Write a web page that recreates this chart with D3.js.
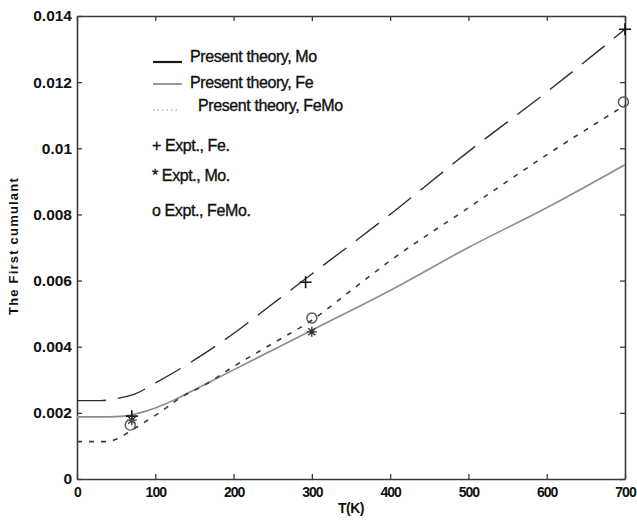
<!DOCTYPE html>
<html>
<head>
<meta charset="utf-8">
<script src="https://cdn.jsdelivr.net/npm/d3@7"></script>
<style>
  body { margin: 0; background: #fff; }
  svg { display: block; font-family: "Liberation Sans", Arial, sans-serif; }
</style>
</head>
<body>
<svg id="chart" width="637" height="526"></svg>
<script>
// temperatures (K) and first cumulant values
const moTheory = [[0,.00188],[40,.00188],[60,.0019],[80,.002],[100,.00215],[125,.0024],[150,.0027],[200,.0033],[250,.0039],[300,.0045],[400,.0057],[500,.0070],[600,.0082],[700,.0095]]
const feTheory = [[0,.00237],[30,.00237],[50,.00243],[75,.00258],[100,.0029],[150,.0036],[200,.0044],[250,.0053],[300,.0062],[400,.008],[500,.0099],[600,.0117],[700,.0136]]
const femoTheory = [[0,.00113],[35,.00113],[50,.0012],[65,.0014],[85,.0017],[105,.002],[135,.0025],[160,.0028],[200,.0034],[250,.0041],[300,.0048],[350,.0057],[400,.0066],[500,.0082],[600,.0098],[700,.0113]]

const feExpt = [[70,.0019],[292,.00595],[700,.0136]]
const moExpt = [[70,.00178],[300,.00445]]
const femoExpt = [[68,.00163],[300,.00487],[698,.0114]]

const xTicks = [0,100,200,300,400,500,600,700]
const yTicks = [0,.002,.004,.006,.008,.01,.012,.014]

const lineLabels = ['Present theory, Mo', 'Present theory, Fe', 'Present theory, FeMo']
const markLabels = ['+ Expt., Fe.', '* Expt., Mo.', 'o Expt., FeMo.']

const margin = {top: 16, right: 12, bottom: 47, left: 77}
const width = 637 - margin.left - margin.right
const height = 526 - margin.top - margin.bottom

const svg = d3.select('#chart').append('g')
  .attr('transform', `translate(${margin.left},${margin.top})`)

const x = d3.scaleLinear().domain([0, 700]).range([0, width])
const y = d3.scaleLinear().domain([0, 0.014]).range([height, 0])

const axisColor = '#3a3a3a'

// frame axes, matlab style ticks pointing inward
const bottom = svg.append('g')
  .attr('transform', `translate(0,${height})`)
  .call(d3.axisBottom(x).tickValues(xTicks).tickSizeInner(-5).tickSizeOuter(0).tickPadding(8))
bottom.selectAll('text')
  .attr('font-size', '14px').attr('font-weight', 'bold').attr('letter-spacing', '-1px').attr('fill', '#111')

const left = svg.append('g')
  .call(d3.axisLeft(y).tickValues(yTicks).tickFormat(d3.format('~g')).tickSizeInner(-5).tickSizeOuter(0).tickPadding(5))
left.selectAll('text')
  .attr('font-size', '15.5px').attr('font-weight', 'bold').attr('fill', '#111')

svg.append('g')
  .call(d3.axisTop(x).tickValues(xTicks).tickSizeInner(-5).tickSizeOuter(0).tickFormat(''))
svg.append('g')
  .attr('transform', `translate(${width},0)`)
  .call(d3.axisRight(y).tickValues(yTicks).tickSizeInner(-5).tickSizeOuter(0).tickFormat(''))

svg.selectAll('.domain').attr('stroke', axisColor).attr('stroke-width', 1.6)
svg.selectAll('.tick line').attr('stroke', axisColor).attr('stroke-width', 1.3)

// axis titles
svg.append('text')
  .attr('x', width / 2).attr('y', height + 34)
  .attr('text-anchor', 'middle').attr('font-size', '14px').attr('font-weight', 'bold')
  .attr('letter-spacing', '-0.5px').attr('fill', '#111')
  .text('T(K)')

svg.append('text')
  .attr('transform', `translate(${-59},${246 - margin.top})rotate(-90)`)
  .attr('text-anchor', 'middle').attr('font-size', '13px').attr('font-weight', 'bold')
  .attr('letter-spacing', '1.2px').attr('fill', '#111')
  .text('The First cumulant')

// theory curves
const line = d3.line()
  .x(d => x(d[0]))
  .y(d => y(d[1]))
  .curve(d3.curveMonotoneX)

svg.append('path').datum(moTheory)
  .attr('d', line).attr('fill', 'none')
  .attr('stroke', '#8c8c8c').attr('stroke-width', 1.6)

svg.append('path').datum(feTheory)
  .attr('d', line).attr('fill', 'none')
  .attr('stroke', '#2e2e2e').attr('stroke-width', 1.4)
  .attr('stroke-dasharray', '29,12')

svg.append('path').datum(femoTheory)
  .attr('d', line).attr('fill', 'none')
  .attr('stroke', '#3c3c3c').attr('stroke-width', 1.6)
  .attr('stroke-dasharray', '5,7')

// experimental points
svg.selectAll('.fe').data(feExpt).enter().append('path')
  .attr('class', 'fe')
  .attr('transform', d => `translate(${x(d[0])},${y(d[1])})`)
  .attr('d', 'M-6,0H6M0,-6V6')
  .attr('stroke', '#111').attr('stroke-width', 1.6).attr('fill', 'none')

svg.selectAll('.mo').data(moExpt).enter().append('path')
  .attr('class', 'mo')
  .attr('transform', d => `translate(${x(d[0])},${y(d[1])})`)
  .attr('d', 'M-5,0H5M0,-5V5M-3.5,-3.5L3.5,3.5M-3.5,3.5L3.5,-3.5')
  .attr('stroke', '#333').attr('stroke-width', 1.4).attr('fill', 'none')

svg.selectAll('.femo').data(femoExpt).enter().append('circle')
  .attr('class', 'femo')
  .attr('cx', d => x(d[0])).attr('cy', d => y(d[1]))
  .attr('r', 5).attr('fill', 'none')
  .attr('stroke', '#555').attr('stroke-width', 1.4)

// legend (drawn in page coordinates)
const legend = d3.select('#chart').append('g')
  .attr('font-size', '16px').attr('fill', '#111').attr('letter-spacing', '-0.4px')
  .attr('stroke', '#111').attr('stroke-width', 0.35)

const lineRows = [
  {label: lineLabels[0], y: 62, ty: 62, tx: 190, x2: 182, stroke: '#1a1a1a', w: 2.2, dash: null},
  {label: lineLabels[1], y: 84, ty: 88, tx: 190, x2: 182, stroke: '#555', w: 1.2, dash: null},
  {label: lineLabels[2], y: 110, ty: 111, tx: 198, x2: 178, stroke: '#999', w: 1, dash: '1.5,3'}
]
lineRows.forEach(r => {
  legend.append('line')
    .attr('x1', 153).attr('x2', r.x2).attr('y1', r.y).attr('y2', r.y)
    .attr('stroke', r.stroke).attr('stroke-width', r.w)
    .attr('stroke-dasharray', r.dash)
  legend.append('text').attr('x', r.tx).attr('y', r.ty).text(r.label)
})

const markRows = [151, 181, 216]
markLabels.forEach((t, i) => {
  legend.append('text').attr('x', 152).attr('y', markRows[i]).text(t)
})
</script>
</body>
</html>
